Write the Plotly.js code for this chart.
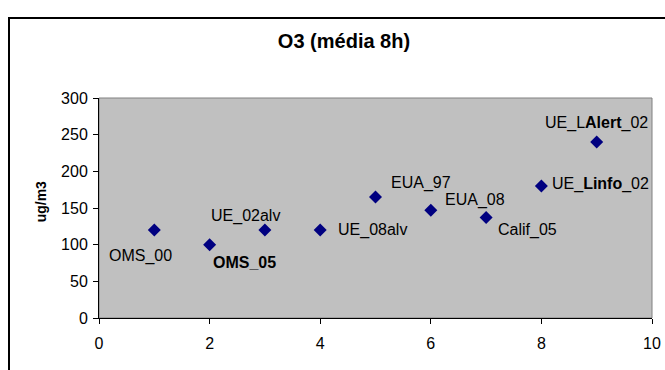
<!DOCTYPE html>
<html>
<head>
<meta charset="utf-8">
<script src="https://cdn.plot.ly/plotly-3.0.1.min.js"></script>
<style>
  html, body { margin: 0; padding: 0; background: #fff; }
  #chart { width: 665px; height: 370px; }
</style>
</head>
<body>
<div id="chart"></div>
<script>
// O3 8-hour average limit values (ug/m3)
const xIndex = [1, 2, 3, 4, 5, 6, 7, 8, 9];
const o3Values = [120, 100, 120, 120, 165, 147, 137, 180, 240];
const pointLabels = [
  'OMS_00', '<b>OMS_05</b>', 'UE_02alv', 'UE_08alv', 'EUA_97',
  'EUA_08', 'Calif_05', 'UE_<b>Linfo</b>_02', 'UE_L<b>Alert</b>_02'
];
const xTicks = [0, 2, 4, 6, 8, 10];
const yTicks = [0, 50, 100, 150, 200, 250, 300];

// pixel offsets of each label relative to its marker
const labelShift = [
  [-14, -26], [35, -18], [-19, 14], [52, 0], [45, 14],
  [44, 10], [41, -12], [59, 2], [0, 19]
];

const FONT = 'Liberation Sans, Arial, sans-serif';

const trace = {
  x: xIndex,
  y: o3Values,
  mode: 'markers',
  type: 'scatter',
  marker: { symbol: 'diamond', size: 10, color: '#000080' },
  hoverinfo: 'x+y'
};

const annotations = pointLabels.map((t, i) => ({
  x: xIndex[i], y: o3Values[i], xref: 'x', yref: 'y',
  text: t, showarrow: false,
  xanchor: 'center', yanchor: 'middle',
  xshift: labelShift[i][0], yshift: labelShift[i][1],
  font: { family: FONT, size: 16, color: '#000' }
}));

annotations.push({
  xref: 'paper', yref: 'paper', x: -0.105, y: 0.53,
  text: '<b>ug/m3</b>', textangle: -90, showarrow: false,
  xanchor: 'center', yanchor: 'middle',
  font: { family: FONT, size: 14, color: '#000' }
});

const layout = {
  width: 665, height: 370,
  margin: { l: 99, r: 13, t: 98, b: 52, pad: 0 },
  paper_bgcolor: '#ffffff',
  plot_bgcolor: '#C0C0C0',
  showlegend: false,
  font: { family: FONT, size: 16, color: '#000' },
  title: {
    text: '<b>O3 (média 8h)</b>',
    font: { family: FONT, size: 20, color: '#000' },
    x: 344 / 665, xref: 'container', xanchor: 'center',
    y: 1 - 41 / 370, yref: 'container', yanchor: 'middle'
  },
  xaxis: {
    range: [0, 10], tickvals: xTicks, ticktext: xTicks.map(String),
    showgrid: false, zeroline: false,
    showline: true, linecolor: '#000', linewidth: 1,
    ticks: 'outside', ticklen: 5, tickcolor: '#000',
    ticklabelstandoff: 6,
    tickfont: { family: FONT, size: 16 }
  },
  yaxis: {
    range: [0, 300], tickvals: yTicks, ticktext: yTicks.map(String),
    showgrid: false, zeroline: false,
    showline: true, linecolor: '#000', linewidth: 1,
    ticks: 'outside', ticklen: 5, tickcolor: '#000',
    ticklabelstandoff: 2,
    tickfont: { family: FONT, size: 16 }
  },
  annotations: annotations,
  shapes: [
    // plot area frame
    { type: 'rect', xref: 'paper', yref: 'paper', x0: 0, x1: 1, y0: 0, y1: 1,
      line: { color: '#808080', width: 1 }, layer: 'below' },
    // chart area border
    { type: 'rect', xref: 'paper', yref: 'paper',
      x0: (9 - 99) / 553, x1: (680 - 99) / 553,
      y0: (318 - 390) / 220, y1: (318 - 18) / 220,
      line: { color: '#000', width: 2 } }
  ]
};

Plotly.newPlot('chart', [trace], layout, { staticPlot: true, displayModeBar: false });
</script>
</body>
</html>
